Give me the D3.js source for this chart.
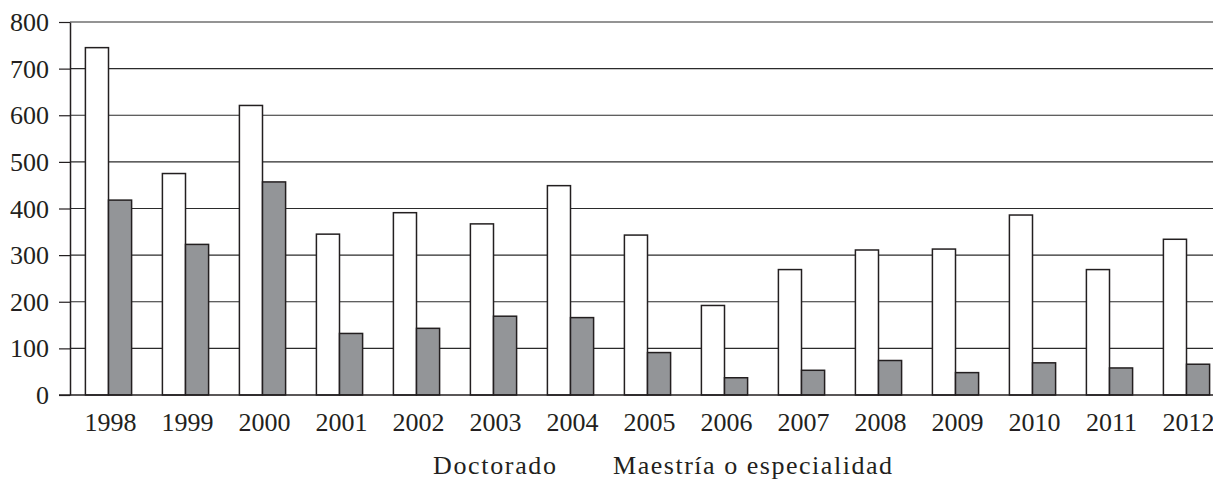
<!DOCTYPE html>
<html>
<head>
<meta charset="utf-8">
<script src="https://cdn.jsdelivr.net/npm/d3@7"></script>
<style>
  html, body { margin: 0; padding: 0; background: #fff; overflow: hidden; }
  svg { display: block; }
  text { font-family: "Liberation Serif", "DejaVu Serif", serif; fill: #231f20; }
</style>
</head>
<body>
<svg id="chart" width="1213" height="480"></svg>
<script>
const years = ["1998","1999","2000","2001","2002","2003","2004","2005","2006","2007","2008","2009","2010","2011","2012"];
const doctorado = [745, 475, 621, 345, 391, 367, 449, 343, 192, 269, 311, 313, 386, 269, 334];
const maestria = [418, 323, 457, 132, 143, 169, 166, 91, 37, 53, 74, 48, 69, 58, 66];
const seriesNames = ["Doctorado", "Maestría o especialidad"];
const yTicks = [0, 100, 200, 300, 400, 500, 600, 700, 800];

const svg = d3.select("#chart");
const mLeft = 70, mRight = 1225, mTop = 22, mBottom = 395;
const ink = "#231f20";

const x0 = d3.scaleBand().domain(years).range([mLeft, mRight]).paddingInner(0.4).paddingOuter(0.2);
const x1 = d3.scaleBand().domain([0, 1]).range([0, x0.bandwidth()]);
const y = d3.scaleLinear().domain([0, 800]).range([mBottom, mTop]);

// gridlines
svg.append("g").selectAll("line").data(yTicks.filter(d => d > 0)).join("line")
  .attr("x1", mLeft).attr("x2", mRight)
  .attr("y1", d => y(d)).attr("y2", d => y(d))
  .attr("stroke", "#2b2b2b").attr("stroke-width", 1.2);

// bars
const rows = years.map((yr, i) => ({ yr, vals: [doctorado[i], maestria[i]] }));
const fills = ["#ffffff", "#939598"];
svg.append("g").selectAll("g").data(rows).join("g")
  .attr("transform", d => `translate(${x0(d.yr)},0)`)
  .selectAll("rect").data(d => d.vals.map((v, k) => ({ v, k }))).join("rect")
  .attr("x", d => x1(d.k)).attr("width", x1.bandwidth())
  .attr("y", d => y(d.v)).attr("height", d => y(0) - y(d.v))
  .attr("fill", d => fills[d.k]).attr("stroke", ink).attr("stroke-width", 1.5);

// y axis
const yAxis = svg.append("g").attr("transform", `translate(${mLeft},0)`)
  .call(d3.axisLeft(y).tickValues(yTicks).tickSize(11).tickPadding(10).tickSizeOuter(0));
yAxis.select(".domain").attr("stroke", ink).attr("stroke-width", 1.5);
yAxis.selectAll(".tick line").attr("stroke", ink).attr("stroke-width", 1.2);
yAxis.selectAll("text").attr("font-size", 26).attr("font-family", "Liberation Serif").attr("fill", ink).attr("dy", "0.33em");

// x axis
const xAxis = svg.append("g").attr("transform", `translate(2,${mBottom})`)
  .call(d3.axisBottom(x0).tickSize(0).tickPadding(36).tickSizeOuter(0));
xAxis.select(".domain").remove();
xAxis.selectAll("text").attr("font-size", 26).attr("font-family", "Liberation Serif").attr("fill", ink).attr("dy", 0);
svg.append("line").attr("x1", mLeft - 11).attr("x2", mRight).attr("y1", mBottom).attr("y2", mBottom)
  .attr("stroke", ink).attr("stroke-width", 1.5);

// legend (text only)
const legendX = [433, 613];
const legendW = [123, 279];
svg.append("g").selectAll("text").data(seriesNames).join("text")
  .attr("x", (d, i) => legendX[i]).attr("y", 474)
  .attr("font-size", 26).attr("fill", ink)
  .attr("textLength", (d, i) => legendW[i]).attr("lengthAdjust", "spacing")
  .text(d => d);
</script>
</body>
</html>
